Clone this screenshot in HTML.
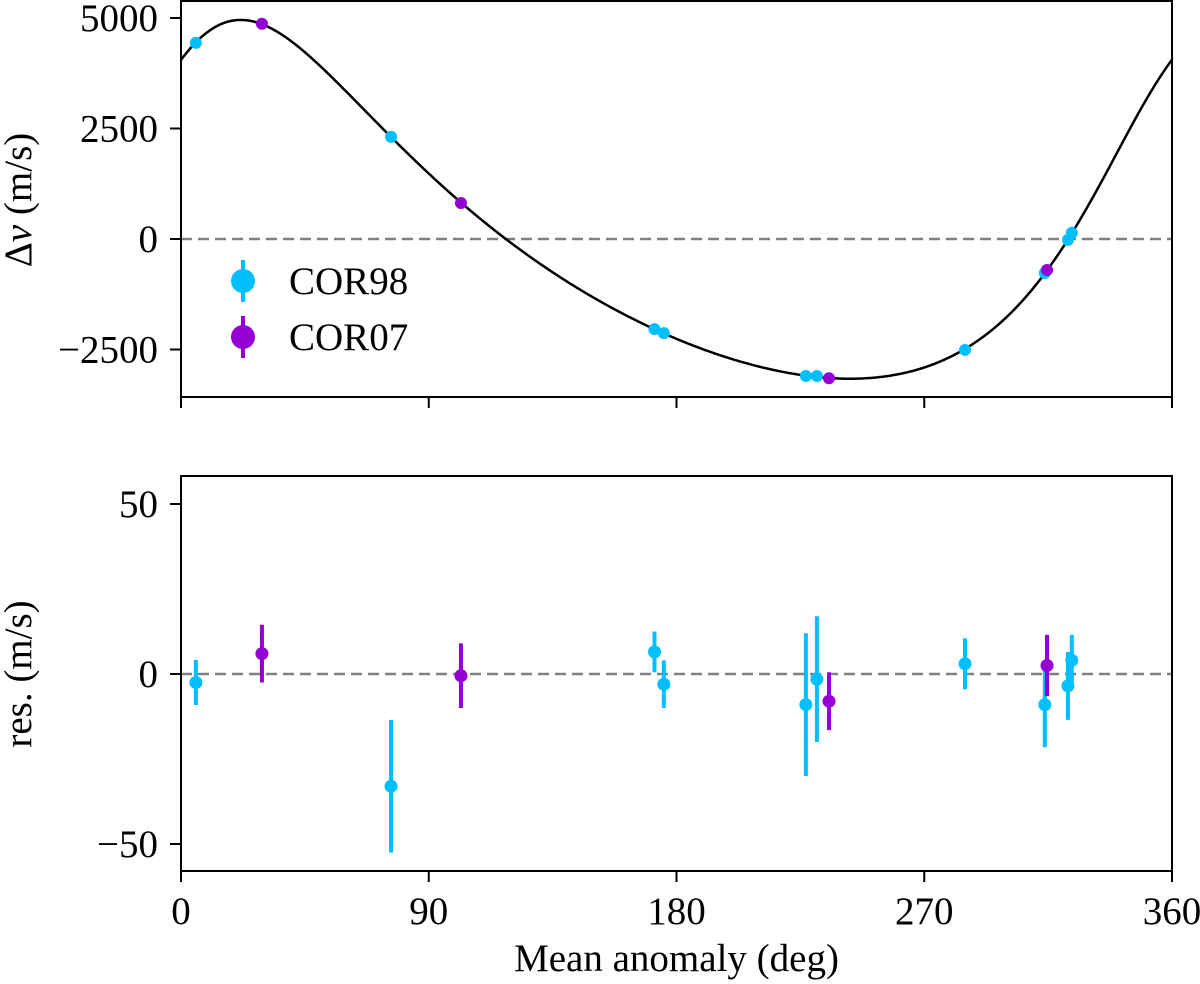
<!DOCTYPE html>
<html><head><meta charset="utf-8"><style>
html,body{margin:0;padding:0;background:#fff;}
svg{display:block;font-family:"Liberation Serif",serif;}
</style></head><body>
<svg id="chart" width="1200" height="984" viewBox="0 0 1200 984" xmlns="http://www.w3.org/2000/svg"></svg>
<script>
// ---- data ----
const cor98Phase = [5.4, 76.3, 172.0, 175.4, 227.0, 231.0, 284.8, 313.8, 322.2, 323.6];
const cor98Rv    = [4438, 2310, -2040, -2130, -3100, -3100, -2510, -770, -20, 140];
const cor98Res   = [-2.5, -33, 6.5, -3, -9, -1.5, 3, -9, -3.5, 4];
const cor98Err   = [6.6, 19.5, 6, 7, 21, 18.5, 7.5, 12.5, 10, 7.5];
const cor07Phase = [29.4, 101.7, 235.4, 314.6];
const cor07Rv    = [4870, 815, -3150, -700];
const cor07Res   = [6, -0.5, -8, 2.5];
const cor07Err   = [8.5, 9.5, 8.5, 9];
const xTicks = [0, 90, 180, 270, 360];
const topYTicks = [5000, 2500, 0, -2500];
const topYLabels = ["5000", "2500", "0", "\u22122500"];
const botYTicks = [50, 0, -50];
const botYLabels = ["50", "0", "\u221250"];

const C98 = "#00bfff", C07 = "#9400d3";
const FS = 39;
const svg = document.getElementById('chart');
const NS = "http://www.w3.org/2000/svg";
function mk(tag, attrs, parent) {
  const e = document.createElementNS(NS, tag);
  for (const k in attrs) e.setAttribute(k, attrs[k]);
  (parent || svg).appendChild(e);
  return e;
}
const L = 181, R = 1172;
const xS = v => L + (v / 360) * (R - L);
const topT = 1, topB = 397;
const yTop = v => 239 - v * (110.5 / 2500);
const botT = 476, botB = 871;
const yBot = v => 674 - v * 3.4;

// ---- Keplerian fit to the RV points ----
function trueAnom(xDeg, e, m0) {
  let M = (xDeg - m0) * Math.PI / 180;
  let E = M;
  for (let k = 0; k < 30; k++) E = E - (E - e * Math.sin(E) - M) / (1 - e * Math.cos(E));
  return 2 * Math.atan2(Math.sqrt(1 + e) * Math.sin(E / 2), Math.sqrt(1 - e) * Math.cos(E / 2));
}
const allX = cor98Phase.concat(cor07Phase), allV = cor98Rv.concat(cor07Rv);
function solve3(A, b) {
  const m = A.map((r, i) => r.concat([b[i]]));
  for (let i = 0; i < 3; i++) {
    let p = i; for (let j = i + 1; j < 3; j++) if (Math.abs(m[j][i]) > Math.abs(m[p][i])) p = j;
    [m[i], m[p]] = [m[p], m[i]];
    for (let j = 0; j < 3; j++) if (j !== i) { const f = m[j][i] / m[i][i]; for (let k = i; k < 4; k++) m[j][k] -= f * m[i][k]; }
  }
  return [m[0][3] / m[0][0], m[1][3] / m[1][1], m[2][3] / m[2][2]];
}
function fitFor(e, m0) {
  const A = [[0,0,0],[0,0,0],[0,0,0]], b = [0,0,0];
  allX.forEach((x, i) => {
    const nu = trueAnom(x, e, m0), r = [Math.cos(nu), Math.sin(nu), 1];
    for (let a = 0; a < 3; a++) { b[a] += r[a] * allV[i]; for (let c = 0; c < 3; c++) A[a][c] += r[a] * r[c]; }
  });
  const c = solve3(A, b);
  let s = 0;
  allX.forEach((x, i) => { const nu = trueAnom(x, e, m0); const d = c[0]*Math.cos(nu)+c[1]*Math.sin(nu)+c[2]-allV[i]; s += d*d; });
  return {c, s};
}
let best = {s: Infinity};
for (let e = 0; e <= 0.7; e += 0.01) for (let m0 = 0; m0 < 360; m0 += 2) {
  const f = fitFor(e, m0); if (f.s < best.s) best = {s: f.s, c: f.c, e, m0};
}
const e0 = best.e, mm = best.m0;
for (let e = Math.max(0, e0 - 0.01); e <= e0 + 0.01; e += 0.001) for (let m0 = mm - 2; m0 <= mm + 2; m0 += 0.1) {
  const f = fitFor(e, m0); if (f.s < best.s) best = {s: f.s, c: f.c, e, m0};
}
const model = x => { const nu = trueAnom(x, best.e, best.m0); return best.c[0]*Math.cos(nu)+best.c[1]*Math.sin(nu)+best.c[2]; };

// ---- top panel ----
const gTop = mk('g', {});


const zl = mk('line', {x1:L, x2:R, y1:yTop(0), y2:yTop(0), stroke:'#808080', 'stroke-width':2.5, 'stroke-dasharray':'11,6'}, gTop);


let d = '';
for (let x = 0; x <= 360; x += 0.5) d += (x === 0 ? 'M' : 'L') + xS(x).toFixed(2) + ',' + yTop(model(x)).toFixed(2);
const cv = mk('path', {d, fill:'none', stroke:'#000', 'stroke-width':2.5}, gTop);


cor98Phase.forEach((p,i)=>{
  const c = mk('circle', {cx:xS(p), cy:yTop(cor98Rv[i]), r:6, fill:C98}, gTop);
  
  
});
cor07Phase.forEach((p,i)=>{
  const c = mk('circle', {cx:xS(p), cy:yTop(cor07Rv[i]), r:6, fill:C07}, gTop);
  
  
});
const fTop = mk('rect', {x:L, y:topT, width:R-L, height:topB-topT, fill:'none', stroke:'#000', 'stroke-width':2}, gTop);


topYTicks.forEach((v,i)=>{
  mk('line', {x1:L-11, x2:L, y1:yTop(v), y2:yTop(v), stroke:'#000', 'stroke-width':2}, gTop);
  const t = mk('text', {x:L-23, y:yTop(v)+13, 'text-anchor':'end', 'font-size':FS}, gTop);
  t.textContent = topYLabels[i];
  
  
});
xTicks.forEach(v=>{
  mk('line', {x1:xS(v), x2:xS(v), y1:topB, y2:topB+11, stroke:'#000', 'stroke-width':2}, gTop);
});
const yt1 = mk('text', {x:0, y:0, 'text-anchor':'middle', 'font-size':FS, transform:'translate(31,200) rotate(-90)'}, gTop);
yt1.innerHTML = 'Δ<tspan font-style="italic">v</tspan> (m/s)';


// legend
const lg = mk('g', {}, gTop);


[[C98,'COR98',281],[C07,'COR07',337]].forEach(([col,lab,y])=>{
  const e = mk('g', {}, lg);
  
  
  mk('line', {x1:243, x2:243, y1:y-21, y2:y+21, stroke:col, 'stroke-width':4}, e);
  mk('circle', {cx:243, cy:y, r:12, fill:col}, e);
  const t = mk('text', {x:289, y:y+13, 'font-size':FS}, e);
  t.textContent = lab;
});

// ---- bottom panel ----
const gBot = mk('g', {});


const zl2 = mk('line', {x1:L, x2:R, y1:yBot(0), y2:yBot(0), stroke:'#808080', 'stroke-width':2.5, 'stroke-dasharray':'11,6'}, gBot);


function resPoints(ph, res, err, col, name){
  ph.forEach((p,i)=>{
    const g = mk('g', {}, gBot);
    
    
    mk('line', {x1:xS(p), x2:xS(p), y1:yBot(res[i]+err[i]), y2:yBot(res[i]-err[i]), stroke:col, 'stroke-width':4}, g);
    mk('circle', {cx:xS(p), cy:yBot(res[i]), r:6.5, fill:col}, g);
  });
}
resPoints(cor98Phase, cor98Res, cor98Err, C98, 'cor98-residual');
resPoints(cor07Phase, cor07Res, cor07Err, C07, 'cor07-residual');
const fBot = mk('rect', {x:L, y:botT, width:R-L, height:botB-botT, fill:'none', stroke:'#000', 'stroke-width':2}, gBot);


botYTicks.forEach((v,i)=>{
  mk('line', {x1:L-11, x2:L, y1:yBot(v), y2:yBot(v), stroke:'#000', 'stroke-width':2}, gBot);
  const t = mk('text', {x:L-23, y:yBot(v)+13, 'text-anchor':'end', 'font-size':FS}, gBot);
  t.textContent = botYLabels[i];
  
  
});
xTicks.forEach(v=>{
  mk('line', {x1:xS(v), x2:xS(v), y1:botB, y2:botB+11, stroke:'#000', 'stroke-width':2}, gBot);
  const t = mk('text', {x:xS(v), y:924, 'text-anchor':'middle', 'font-size':FS}, gBot);
  t.textContent = String(v);
  
  
});
const yt2 = mk('text', {x:0, y:0, 'text-anchor':'middle', 'font-size':FS, transform:'translate(31,674) rotate(-90)'}, gBot);
yt2.textContent = 'res. (m/s)';


const xt = mk('text', {x:(L+R)/2, y:971, 'text-anchor':'middle', 'font-size':FS}, gBot);
xt.textContent = 'Mean anomaly (deg)';


</script>
</body></html>
